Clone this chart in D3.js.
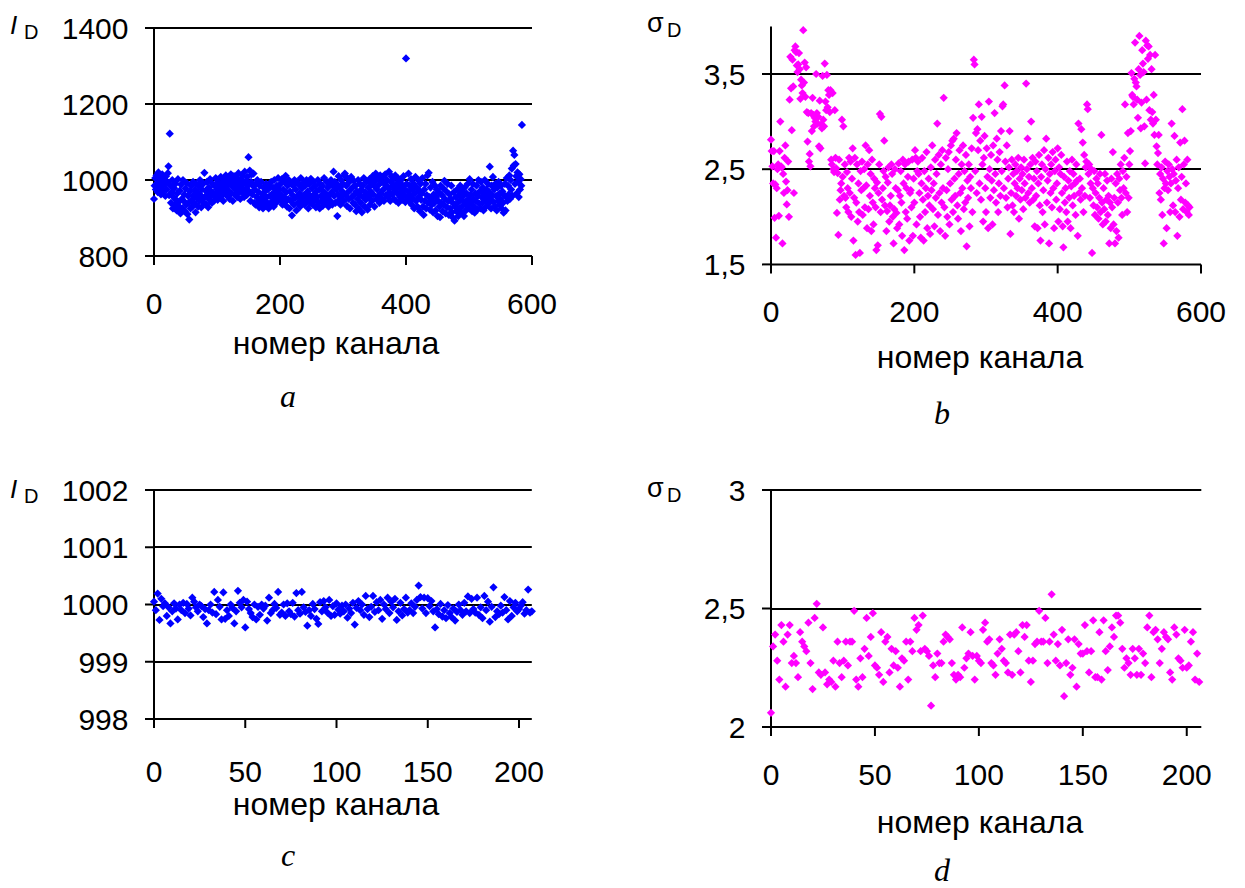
<!DOCTYPE html>
<html>
<head>
<meta charset="utf-8">
<script src="https://cdn.jsdelivr.net/npm/d3@7"></script>
<style>
  body { margin: 0; background: #fff; }
  svg { display: block; }
</style>
</head>
<body>
<svg id="fig" width="1245" height="888"></svg>
<script>
// ---- Dark-signal statistics per channel ----

// (a) mean dark level I_D, raw channels 0..584
const darkLevelRaw = [
  950, 985, 1005, 975, 1012, 990, 968, 1020, 995, 980, 1008, 962, 998, 1015, 985, 972, 1002, 990, 958, 1010,
  975, 995, 1018, 1036, 960, 1122, 985, 940, 968, 1000, 925, 955, 978, 935, 990, 948, 920, 965, 1002, 942,
  930, 972, 912, 988, 950, 925, 1000, 945, 962, 918, 978, 935, 992, 910, 958, 940, 896, 970, 925, 985,
  948, 930, 995, 960, 938, 975, 915, 990, 952, 968, 930, 985, 945, 1000, 960, 928, 975, 950, 990, 940,
  1019, 955, 972, 935, 995, 962, 928, 980, 948, 1002, 958, 970, 940, 990, 965, 945, 985, 955, 1005, 962,
  975, 948, 995, 968, 985, 955, 1008, 972, 960, 990, 945, 1000, 978, 965, 1012, 985, 958, 995, 972, 1005,
  950, 988, 1015, 965, 998, 945, 980, 1010, 962, 990, 975, 1005, 955, 985, 1018, 968, 995, 950, 1002, 978,
  1012, 965, 990, 955, 1022, 975, 998, 960, 1008, 985, 1060, 970, 1025, 945, 995, 1015, 962, 985, 1017, 940,
  975, 935, 990, 955, 1000, 942, 968, 928, 985, 950, 995, 938, 962, 925, 980, 948, 970, 932, 990, 955,
  940, 975, 925, 985, 958, 935, 995, 962, 945, 980, 930, 1000, 955, 968, 940, 985, 950, 1005, 962, 975,
  948, 990, 960, 1002, 935, 975, 955, 995, 942, 1011, 968, 930, 985, 950, 1000, 925, 970, 945, 990, 907,
  960, 985, 935, 1000, 952, 975, 920, 995, 958, 940, 988, 965, 930, 1005, 950, 978, 942, 992, 960, 935,
  985, 955, 1000, 945, 970, 925, 990, 960, 940, 1003, 952, 978, 935, 995, 962, 948, 985, 928, 970, 955,
  1000, 940, 975, 925, 990, 958, 945, 985, 932, 970, 1005, 950, 965, 938, 995, 955, 980, 930, 990, 960,
  945, 1000, 968, 935, 985, 1022, 958, 995, 940, 975, 990, 905, 962, 1010, 948, 980, 935, 1000, 958, 970,
  990, 945, 1012, 1017, 960, 985, 932, 1005, 968, 950, 995, 925, 975, 1008, 955, 980, 940, 998, 962, 935,
  985, 918, 970, 950, 1000, 925, 962, 990, 940, 975, 915, 985, 955, 1005, 930, 968, 948, 995, 960, 922,
  980, 955, 1002, 935, 970, 990, 945, 1010, 962, 985, 930, 998, 1017, 950, 975, 1005, 958, 988, 940, 1012,
  965, 995, 950, 1008, 975, 945, 990, 1015, 960, 985, 1000, 955, 978, 1022, 968, 945, 995, 1010, 962, 985,
  1002, 950, 975, 1012, 945, 990, 965, 1005, 940, 980, 995, 955, 1000, 970, 948, 985, 1010, 960, 975, 942,
  1320, 990, 955, 970, 1017, 945, 985, 960, 1002, 935, 975, 950, 990, 925, 965, 1008, 945, 980, 930, 1000,
  955, 972, 918, 990, 948, 965, 1005, 930, 908, 975, 945, 990, 925, 960, 1012, 940, 1019, 955, 922, 980,
  950, 935, 995, 915, 962, 940, 985, 920, 955, 975, 905, 945, 968, 930, 902, 985, 940, 960, 918, 978,
  935, 998, 950, 912, 970, 928, 990, 945, 908, 962, 925, 950, 985, 915, 940, 900, 968, 893, 930, 955,
  918, 975, 940, 905, 960, 925, 985, 948, 915, 970, 932, 958, 905, 980, 942, 920, 965, 935, 990, 950,
  925, 1002, 960, 940, 975, 918, 990, 950, 930, 914, 965, 945, 985, 922, 958, 1000, 938, 970, 925, 995,
  955, 940, 980, 920, 965, 1000, 948, 930, 975, 955, 990, 938, 968, 1035, 950, 925, 985, 960, 1008, 942,
  975, 930, 990, 958, 920, 980, 945, 995, 935, 965, 950, 985, 925, 970, 940, 914, 960, 990, 920, 955,
  1005, 945, 985, 962, 1012, 950, 1000, 975, 1030, 958, 1077, 1038, 1066, 990, 1042, 1010, 965, 1020, 995, 955,
  1015, 975, 1002, 985, 1145
];

// (b) dark noise sigma_D, raw channels 0..584
const darkNoiseRaw = [
  2.81, 2.69, 2.53, 2.35, 2.69, 1.99, 2.34, 1.78, 2.30, 2.50, 2.55, 2.01, 2.69, 3.00, 2.53, 2.52, 1.72, 2.45, 2.25, 2.62, 2.75, 2.37, 2.13, 2.28, 2.58, 2.00,
  3.23, 3.68, 3.35, 2.91, 3.65, 3.37, 2.25, 3.75, 3.79, 3.73, 3.59, 3.52, 3.60, 3.72, 3.55, 3.24, 3.44, 3.38, 3.30, 3.96, 3.41, 3.62, 3.26, 3.57, 3.10,
  2.79, 3.09, 2.58, 2.66, 2.53, 3.09, 2.90, 3.25, 3.07, 2.95, 3.04, 3.00, 3.50, 3.09, 2.98, 3.05, 2.74, 3.22, 2.72, 2.97,
  2.93, 3.48, 3.02, 2.95, 3.61, 3.21, 3.12, 3.49, 3.15, 3.33, 3.28, 3.10, 3.33, 2.60, 2.55, 3.30, 2.50, 2.47, 3.12, 2.62,
  2.51, 2.04, 2.46, 1.81, 2.60, 2.18, 2.28, 2.35, 3.02, 2.42, 2.95, 2.22, 2.55, 2.20, 2.10, 2.47, 2.30, 2.05, 2.62, 2.25,
  2.58, 2.00, 2.40, 2.72, 1.75, 2.20, 2.62, 1.60, 2.15, 2.55, 1.95, 2.35, 2.05, 1.62, 2.48, 2.28, 2.58, 2.02, 2.30, 2.50,
  2.10, 2.75, 2.33, 1.88, 2.55, 2.08, 2.70, 2.22, 2.45, 1.85, 2.60, 2.15, 1.92, 2.40, 2.30, 2.10, 1.65, 2.36, 1.70, 2.25,
  2.55, 3.08, 2.05, 3.05, 2.18, 2.30, 2.48, 2.80, 2.12, 2.42, 1.85, 2.06, 2.36, 2.52, 1.95, 2.12, 2.22, 2.55, 2.45, 2.00,
  1.72, 2.08, 2.50, 2.30, 2.04, 1.88, 2.28, 2.56, 1.92, 2.22, 2.48, 2.15, 1.80, 2.60, 2.35, 1.65, 2.55, 2.05, 2.30, 1.98,
  2.42, 2.58, 1.75, 2.25, 2.28, 2.10, 2.60, 1.80, 2.40, 2.15, 2.70, 2.62, 1.92, 2.48, 2.58, 2.45, 2.25, 2.00, 1.78, 2.35,
  2.62, 2.18, 1.75, 2.48, 2.05, 2.30, 2.68, 1.88, 2.22, 2.40, 2.12, 1.82, 2.52, 2.28, 2.75, 2.08, 2.35, 1.90, 2.60, 2.20,
  2.45, 2.98, 2.02, 2.65, 2.25, 1.85, 2.55, 2.15, 2.70, 2.30, 3.25, 2.10, 1.80, 2.62, 2.28, 2.00, 2.50, 2.68, 1.92, 2.35,
  2.75, 2.18, 2.80, 2.05, 2.82, 2.40, 2.22, 2.60, 2.88, 2.12, 1.98, 2.45, 2.70, 2.25, 1.85, 2.55, 2.30, 2.75, 2.08, 2.48,
  2.15, 2.65, 1.69, 2.38, 2.20, 2.55, 1.90, 2.42, 2.30, 2.72, 2.05, 3.04, 3.65, 3.60, 2.48, 2.88, 2.25, 2.92, 2.70, 3.18,
  2.35, 2.80, 2.18, 3.05, 2.55, 1.95, 2.62, 2.85, 2.30, 2.05, 2.72, 2.42, 1.88, 3.21, 2.50, 2.20, 2.65, 2.38, 1.92, 2.75,
  2.28, 3.09, 2.45, 2.15, 2.82, 2.60, 2.05, 2.35, 2.68, 2.22, 2.90, 2.48, 3.16, 3.18, 2.30, 3.38, 2.58, 2.20, 2.75, 2.10,
  2.40, 2.52, 2.90, 1.82, 2.25, 2.60, 2.12, 2.45, 2.05, 2.35, 2.55, 2.22, 2.48, 2.30, 2.62, 1.98, 2.40, 2.18, 2.52, 2.28,
  2.45, 2.08, 2.60, 2.35, 2.20, 3.40, 2.50, 2.82, 2.25, 2.42, 2.15, 2.55, 3.00, 2.30, 2.62, 2.18, 2.40, 1.90, 2.58, 2.22,
  2.48, 1.88, 2.35, 2.65, 2.12, 1.75, 2.42, 2.55, 2.05, 2.28, 2.70, 1.92, 2.50, 2.82, 2.15, 2.38, 2.62, 1.72, 2.45, 2.25,
  2.55, 2.10, 2.68, 2.30, 1.88, 2.48, 2.60, 2.18, 2.35, 2.72, 1.95, 2.52, 2.08, 2.45, 2.65, 2.25, 1.90, 1.68, 2.42, 2.15,
  2.30, 2.05, 2.58, 1.95, 2.38, 2.20, 2.48, 1.88, 2.32, 2.60, 2.12, 2.45, 2.22, 2.35, 2.02, 2.55, 2.38, 1.80, 2.98, 2.25,
  2.40, 2.18, 2.92, 2.30, 2.78, 2.05, 2.65, 2.22, 2.52, 2.58, 3.18, 3.13, 2.45, 2.55, 2.20, 2.35, 2.50, 1.62, 2.30, 2.12,
  2.48, 2.02, 2.25, 2.40, 2.10, 2.35, 1.98, 2.20, 2.45, 2.05, 2.86, 2.15, 1.92, 2.30, 2.08, 2.45, 1.95, 2.18, 2.38, 2.02,
  2.22, 1.72, 2.15, 1.88, 2.40, 2.10, 2.68, 1.92, 2.20, 1.72, 2.35, 1.85, 2.45, 2.15, 1.78, 2.40, 2.28, 2.55, 2.20, 2.02,
  2.48, 2.30, 2.62, 3.18, 2.25, 2.42, 2.05, 2.88, 2.20, 2.55,
  2.69, 2.90, 3.51, 3.28, 3.26, 3.18, 3.45, 3.83, 3.41, 3.37, 3.23, 3.04, 3.55, 3.90, 3.49, 2.93, 3.20, 3.75, 3.61, 3.52,
  2.95, 2.56, 3.85, 3.23, 3.80, 3.66, 3.79, 3.12, 3.70, 3.02, 3.55, 3.10, 2.98, 3.28, 2.86, 3.70, 3.02, 2.74, 2.55, 2.67,
  2.86, 2.25, 2.45, 2.18, 2.52, 2.02, 2.40, 1.72, 2.30, 2.58, 2.35, 1.88, 2.48, 2.28, 2.55, 2.42, 2.05, 2.35, 2.98, 2.50,
  2.12, 2.45, 2.85, 2.05, 2.38, 2.60, 1.80, 2.30, 2.52, 2.00, 2.78, 2.18, 2.42, 3.13, 2.08, 2.55, 2.80, 2.15, 2.35, 2.05,
  2.60, 2.12, 2.02, 2.10
];

// (c) mean dark level I_D after correction, channels 0..207
const darkLevelCorr = [
  1000.05, 999.90, 1000.19, 999.73, 1000.10, 999.97, 1000.02, 999.80, 999.95, 999.67, 999.88, 1000.02, 999.93, 999.74, 1000.00, 999.90, 1000.03, 999.85, 1000.01, 999.93,
  999.81, 1000.12, 1000.05, 999.95, 999.88, 1000.00, 999.97, 999.78, 999.92, 999.67, 999.90, 1000.00, 999.86, 1000.22, 999.83, 1000.08, 999.96, 999.74, 1000.21, 999.75,
  999.90, 999.80, 1000.00, 999.94, 999.67, 999.88, 1000.24, 1000.03, 999.95, 1000.08, 999.60, 1000.05, 999.92, 999.85, 999.78, 1000.00, 999.74, 999.96, 999.82, 1000.00,
  999.93, 999.98, 999.72, 1000.12, 999.85, 999.90, 1000.01, 999.94, 1000.22, 999.82, 999.86, 1000.00, 999.80, 1000.02, 999.88, 999.83, 1000.03, 999.79, 1000.20, 999.90,
  999.84, 1000.22, 999.95, 999.87, 999.63, 999.90, 999.80, 1000.01, 999.92, 999.75, 999.66, 1000.04, 999.88, 1000.06, 999.95, 999.86, 1000.08, 999.80, 999.97, 999.82,
  1000.02, 999.91, 999.84, 999.98, 999.88, 1000.00, 999.77, 999.93, 999.85, 1000.03, 999.65, 999.94, 1000.06, 999.90, 1000.00, 999.82, 1000.15, 999.92, 999.78, 999.96,
  1000.15, 999.87, 1000.04, 999.90, 1000.08, 999.75, 1000.00, 999.92, 1000.12, 999.85, 1000.05, 999.95, 1000.10, 999.73, 999.88, 1000.03, 999.81, 999.92, 1000.12, 999.86,
  999.90, 1000.02, 999.85, 999.96, 1000.08, 1000.33, 1000.13, 999.93, 1000.12, 999.85, 1000.11, 999.97, 1000.06, 999.88, 999.60, 999.92, 999.83, 1000.01, 999.79, 999.90,
  999.76, 999.99, 999.85, 999.78, 999.93, 999.72, 999.87, 1000.00, 999.90, 999.82, 1000.03, 999.88, 1000.14, 999.85, 1000.10, 999.92, 999.86, 1000.12, 999.82, 999.95,
  999.76, 1000.15, 999.90, 1000.05, 999.70, 999.96, 1000.30, 999.78, 999.88, 999.83, 999.98, 999.86, 1000.13, 999.90, 999.74, 1000.06, 999.80, 999.95, 1000.03, 999.88,
  999.92, 999.98, 1000.04, 999.84, 999.90, 1000.26, 999.86, 999.88
];

// (d) dark noise sigma_D after correction, channels 0..206
const darkNoiseCorr = [
  2.06, 2.34, 2.39, 2.28, 2.20, 2.43, 2.36, 2.17, 2.39, 2.43,
  2.27, 2.30, 2.27, 2.21, 2.40, 2.36, 2.34, 2.32, 2.44, 2.27,
  2.16, 2.46, 2.52, 2.23, 2.22, 2.42, 2.23, 2.18, 2.20, 2.19,
  2.28, 2.17, 2.36, 2.27, 2.21, 2.28, 2.36, 2.26, 2.36, 2.36,
  2.49, 2.20, 2.17, 2.29, 2.21, 2.33, 2.46, 2.30, 2.38, 2.48,
  2.26, 2.25, 2.22, 2.40, 2.19, 2.36, 2.38, 2.23, 2.33, 2.26,
  2.32, 2.25, 2.17, 2.29, 2.28, 2.36, 2.20, 2.36, 2.32, 2.46,
  2.41, 2.43, 2.32, 2.47, 2.33, 2.32, 2.30, 2.09, 2.26, 2.21,
  2.31, 2.27, 2.27, 2.36, 2.39, 2.38, 2.37, 2.27, 2.22, 2.20,
  2.22, 2.21, 2.42, 2.25, 2.29, 2.31, 2.40, 2.30, 2.20, 2.30,
  2.28, 2.27, 2.41, 2.44, 2.36, 2.37, 2.27, 2.26, 2.22, 2.31,
  2.37, 2.33, 2.28, 2.27, 2.23, 2.39, 2.22, 2.39, 2.40, 2.32,
  2.23, 2.43, 2.38, 2.43, 2.28, 2.19, 2.28, 2.35, 2.36, 2.49,
  2.36, 2.36, 2.46, 2.27, 2.36, 2.56, 2.39, 2.28, 2.35, 2.26,
  2.41, 2.13, 2.27, 2.37, 2.22, 2.25, 2.37, 2.17, 2.35, 2.31,
  2.31, 2.43, 2.32, 2.23, 2.32, 2.45, 2.21, 2.21, 2.40, 2.20,
  2.45, 2.32, 2.24, 2.34, 2.42, 2.38, 2.47, 2.47, 2.44, 2.33,
  2.25, 2.29, 2.27, 2.22, 2.33, 2.29, 2.22, 2.33, 2.22, 2.31,
  2.27, 2.42, 2.47, 2.21, 2.40, 2.41, 2.37, 2.27, 2.33, 2.40,
  2.38, 2.37, 2.23, 2.20, 2.42, 2.39, 2.29, 2.28, 2.25, 2.41,
  2.25, 2.26, 2.36, 2.40, 2.20, 2.31, 2.19
];

// Axis ticks
const xTicksRaw = [0, 200, 400, 600];
const xTicksCorr = [0, 50, 100, 150, 200];
const yTicksA = [800, 1000, 1200, 1400];
const yTicksB = [1.5, 2.5, 3.5];
const yTicksC = [998, 999, 1000, 1001, 1002];
const yTicksD = [2, 2.5, 3];

const xTitle = "номер канала";
const panelLetters = ["a", "b", "c", "d"];

// ---- Layout ----
const BLUE = "#0000ff", MAGENTA = "#ff00ff";
const SANS = "'Liberation Sans', Arial, sans-serif";
const SERIF = "'Liberation Serif', 'Times New Roman', serif";

const panels = [
  { values: darkLevelRaw,  xDomain: [0, 600], xTicks: xTicksRaw,  yDomain: [800, 1400], yTicks: yTicksA,
    color: BLUE, sym: "I", left: 154, right: 532, top: 28, bottom: 256,
    tickBase: 314, titleBase: 354, titleX: 336, letterX: 288, letterBase: 407, symBase: 34 },
  { values: darkNoiseRaw,  xDomain: [0, 600], xTicks: xTicksRaw,  yDomain: [1.5, 4], yTicks: yTicksB,
    color: MAGENTA, sym: "σ", left: 771, right: 1201, top: 26.4, bottom: 264.4,
    tickBase: 322, titleBase: 368, titleX: 980, letterX: 942, letterBase: 424, symBase: 32 },
  { values: darkLevelCorr, xDomain: [0, 207], xTicks: xTicksCorr, yDomain: [998, 1002], yTicks: yTicksC,
    color: BLUE, sym: "I", left: 154, right: 531.8, top: 490, bottom: 719,
    tickBase: 782, titleBase: 815, titleX: 336, letterX: 288, letterBase: 866, symBase: 498 },
  { values: darkNoiseCorr, xDomain: [0, 207], xTicks: xTicksCorr, yDomain: [2, 3], yTicks: yTicksD,
    color: MAGENTA, sym: "σ", left: 771, right: 1201.3, top: 490, bottom: 727,
    tickBase: 785, titleBase: 833, titleX: 980, letterX: 942, letterBase: 881, symBase: 497 }
];

const svg = d3.select("#fig");
svg.append("rect").attr("width", 1245).attr("height", 888).attr("fill", "#fff");

const fmt = d => String(d).replace(".", ",");
const marker = d3.symbol().type(d3.symbolSquare).size(34);

panels.forEach((p, i) => {
  const x = d3.scaleLinear().domain(p.xDomain).range([p.left, p.right]);
  const y = d3.scaleLinear().domain(p.yDomain).range([p.bottom, p.top]);
  const g = svg.append("g");

  // horizontal gridlines at every labelled value above the x axis
  g.append("g").selectAll("line")
    .data(p.yTicks.filter(v => v > p.yDomain[0]))
    .join("line")
    .attr("x1", p.left).attr("x2", p.right)
    .attr("y1", d => Math.round(y(d))).attr("y2", d => Math.round(y(d)))
    .attr("stroke", "#000").attr("stroke-width", 2);

  // y axis
  const gy = g.append("g").attr("transform", `translate(${p.left},0)`)
    .call(d3.axisLeft(y).tickValues(p.yTicks).tickSize(9).tickSizeOuter(0).tickFormat(fmt).offset(0));
  // x axis
  const gx = g.append("g").attr("transform", `translate(0,${p.bottom})`)
    .call(d3.axisBottom(x).tickValues(p.xTicks).tickSize(9).tickSizeOuter(0).tickFormat(fmt).offset(0));

  [gy, gx].forEach(a => {
    a.attr("font-family", SANS).attr("font-size", 30);
    a.selectAll("path, line").attr("stroke", "#000").attr("stroke-width", 2);
    a.selectAll("text").attr("fill", "#000");
  });
  gy.selectAll("text").attr("x", -25.5).attr("dy", "0.36em");
  gx.selectAll("text").attr("y", p.tickBase - p.bottom).attr("dy", null);

  // data points: one diamond per channel
  g.append("g").selectAll("path")
    .data(p.values)
    .join("path")
    .attr("d", marker)
    .attr("transform", (d, k) => `translate(${x(k)},${y(d)}) rotate(45)`)
    .attr("fill", p.color);

  // x axis title
  g.append("text")
    .attr("x", p.titleX).attr("y", p.titleBase)
    .attr("text-anchor", "middle")
    .attr("font-family", SANS).attr("font-size", 32)
    .text(xTitle);

  // y quantity symbol with subscript D
  if (p.sym === "I") {
    g.append("text").attr("x", 10).attr("y", p.symBase)
      .attr("font-family", SANS).attr("font-style", "italic").attr("font-size", 26).text("I");
    g.append("text").attr("x", 24).attr("y", p.symBase + 5)
      .attr("font-family", SANS).attr("font-size", 20).text("D");
  } else {
    g.append("text").attr("x", 647).attr("y", p.symBase)
      .attr("font-family", SANS).attr("font-size", 27).text("σ");
    g.append("text").attr("x", 667).attr("y", p.symBase + 4.5)
      .attr("font-family", SANS).attr("font-size", 20).text("D");
  }

  // panel letter
  g.append("text")
    .attr("x", p.letterX).attr("y", p.letterBase)
    .attr("text-anchor", "middle")
    .attr("font-family", SERIF).attr("font-style", "italic").attr("font-size", 32)
    .text(panelLetters[i]);
});
</script>
</body>
</html>
